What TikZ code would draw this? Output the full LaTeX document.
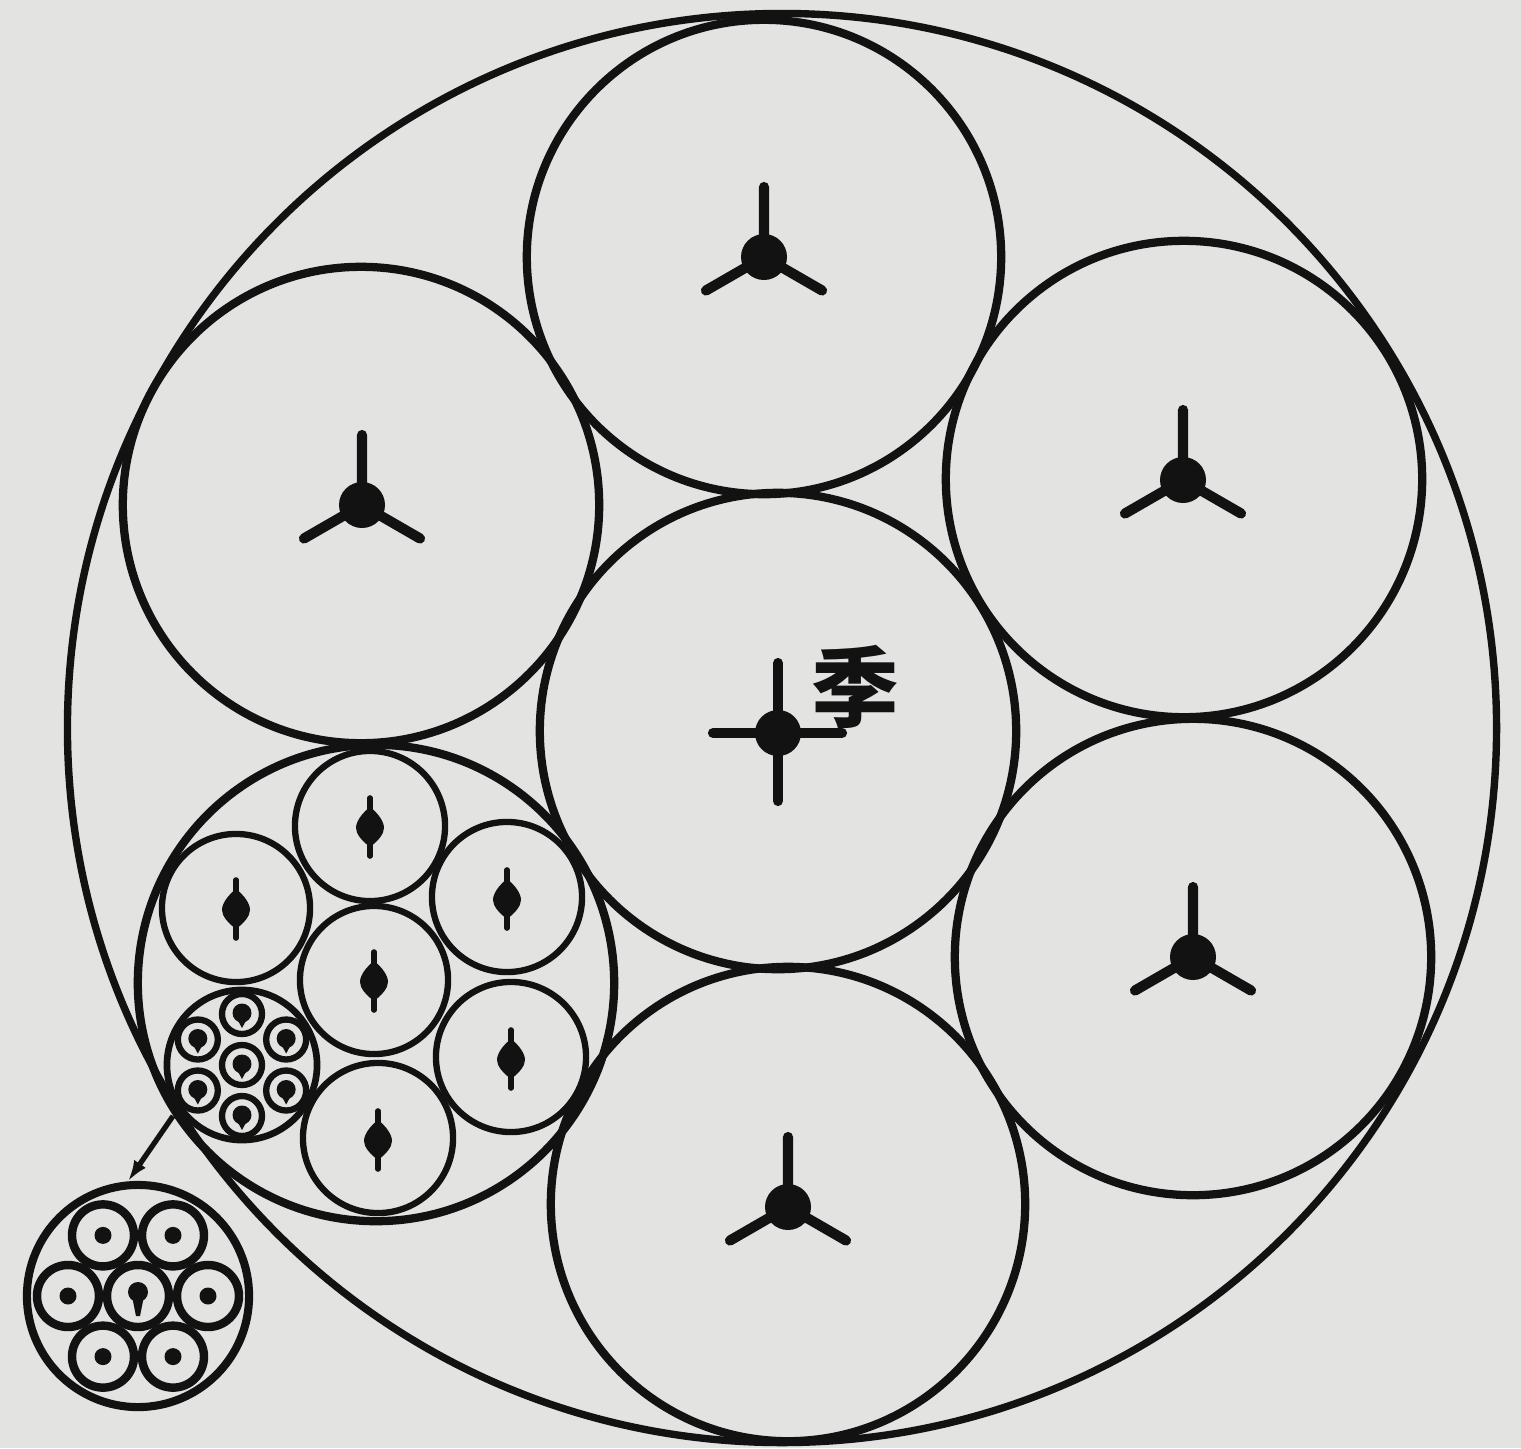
\documentclass[tikz,border=0pt]{standalone}
\usepackage{fontspec}
\newfontfamily\cjk{Noto Sans CJK SC}
\usetikzlibrary{arrows.meta,calc}
\definecolor{paper}{HTML}{E3E3E1}
\definecolor{ink}{HTML}{121212}
\tikzset{
  cir/.style={circle, draw=ink, inner sep=0pt, minimum size=#1*0.02cm},
  outer/.style={cir=#1, line width=2.1pt},
  big/.style={cir=#1, line width=2.35pt},
  mid/.style={cir=#1, line width=1.8pt},
  bund/.style={cir=#1, line width=1.9pt},
  inset/.style={cir=#1, line width=2.3pt},
  tri/.pic={
    \fill[ink] (0,0) circle[radius=23];
    \draw[ink, line width=2.9pt, line cap=round] (0,0) -- (-90:70) (0,0) -- (150:67) (0,0) -- (30:67);
  },
  crossmark/.pic={
    \fill[ink] (0,0) circle[radius=23];
    \draw[ink, line width=2.9pt, line cap=round] (0,-70) -- (0,68) (-65,0) -- (64,0);
  },
  loz/.pic={
    \draw[ink, line width=1.6pt, line cap=round] (0,-28) -- (0,30);
    \fill[ink] (0,-19) .. controls (9,-12) and (14,-4) .. (14,2)
      .. controls (14,8) and (8,15) .. (0,21)
      .. controls (-8,15) and (-14,8) .. (-14,2)
      .. controls (-14,-4) and (-9,-12) .. (0,-19) -- cycle;
  },
  bring/.pic={
    \draw[ink, line width=1.8pt] (0,0) circle[radius=20];
    \fill[ink] (0,-1) circle[radius=9.5];
    \fill[ink] (-6,3) -- (0,14) -- (6,3) -- cycle;
  },
  iring/.pic={
    \draw[ink, line width=2.4pt] (0,0) circle[radius=31];
    \fill[ink] (0,0) circle[radius=8.5];
  },
  icring/.pic={
    \draw[ink, line width=2.4pt] (0,0) circle[radius=31];
    \fill[ink] (0,-4) circle[radius=10];
    \fill[ink] (-6,0) -- (-2,20) -- (2,20) -- (6,0) -- cycle;
  },
}
\begin{document}
\begin{tikzpicture}[x=0.01cm, y=-0.01cm]
\fill[paper] (0,0) rectangle (1521,1448);
\useasboundingbox (0,0) rectangle (1521,1448);

% outer sheath
\node[outer=714] (O) at (782,728) {};

% seven main strands
\node[big=238] (C) at (778,731) {};
\node[big=237] (T) at (764,257) {};
\node[big=238] (UL) at (361,505) {};
\node[big=238] (UR) at (1184,479) {};
\node[big=238] (LR) at (1193,957) {};
\node[big=237] (B) at (788,1204) {};
\node[big=238] (LL) at (376,983) {};

% markers in main strands
\pic at (778,733) {crossmark};
\pic at (764,257) {tri};
\pic at (362,505) {tri};
\pic at (1183,480) {tri};
\pic at (1193,957) {tri};
\pic at (788,1207) {tri};
\node[font=\cjk\bfseries\fontsize{25}{25}\selectfont, text=ink, inner sep=0pt] (ji) at (855,687) {季};

% sub-strands in the lower-left strand
\node[mid=75] (m1) at (370,826) {};
\node[mid=74] (m2) at (236,908) {};
\node[mid=74] (m3) at (374,980) {};
\node[mid=75] (m4) at (507,897) {};
\node[mid=75] (m5) at (511,1057) {};
\node[mid=75] (m6) at (378,1138) {};
\pic at (370,826) {loz};
\pic at (236,908) {loz};
\pic at (374,980) {loz};
\pic at (507,898) {loz};
\pic at (511,1058) {loz};
\pic at (378,1139) {loz};

% small bundle
\node[bund=75] (bundle) at (242,1065) {};
\foreach \a in {90,30,-30,-90,-150,150}{
  \pic at ($(242,1065)+(-\a:51)$) {bring};
}
\pic at (242,1065) {bring};

% enlarged inset
\node[inset=111] (ins) at (138,1296) {};
\foreach \a in {0,60,120,180,240,300}{
  \pic at ($(138,1296)+(-\a:70)$) {iring};
}
\pic at (138,1296) {icring};

% connector
\coordinate (cs) at (173,1116);
\draw[ink, line width=1.5pt, -{Latex[length=6pt,width=4pt]}] (cs) -- (ins.95);
\end{tikzpicture}
\end{document}
